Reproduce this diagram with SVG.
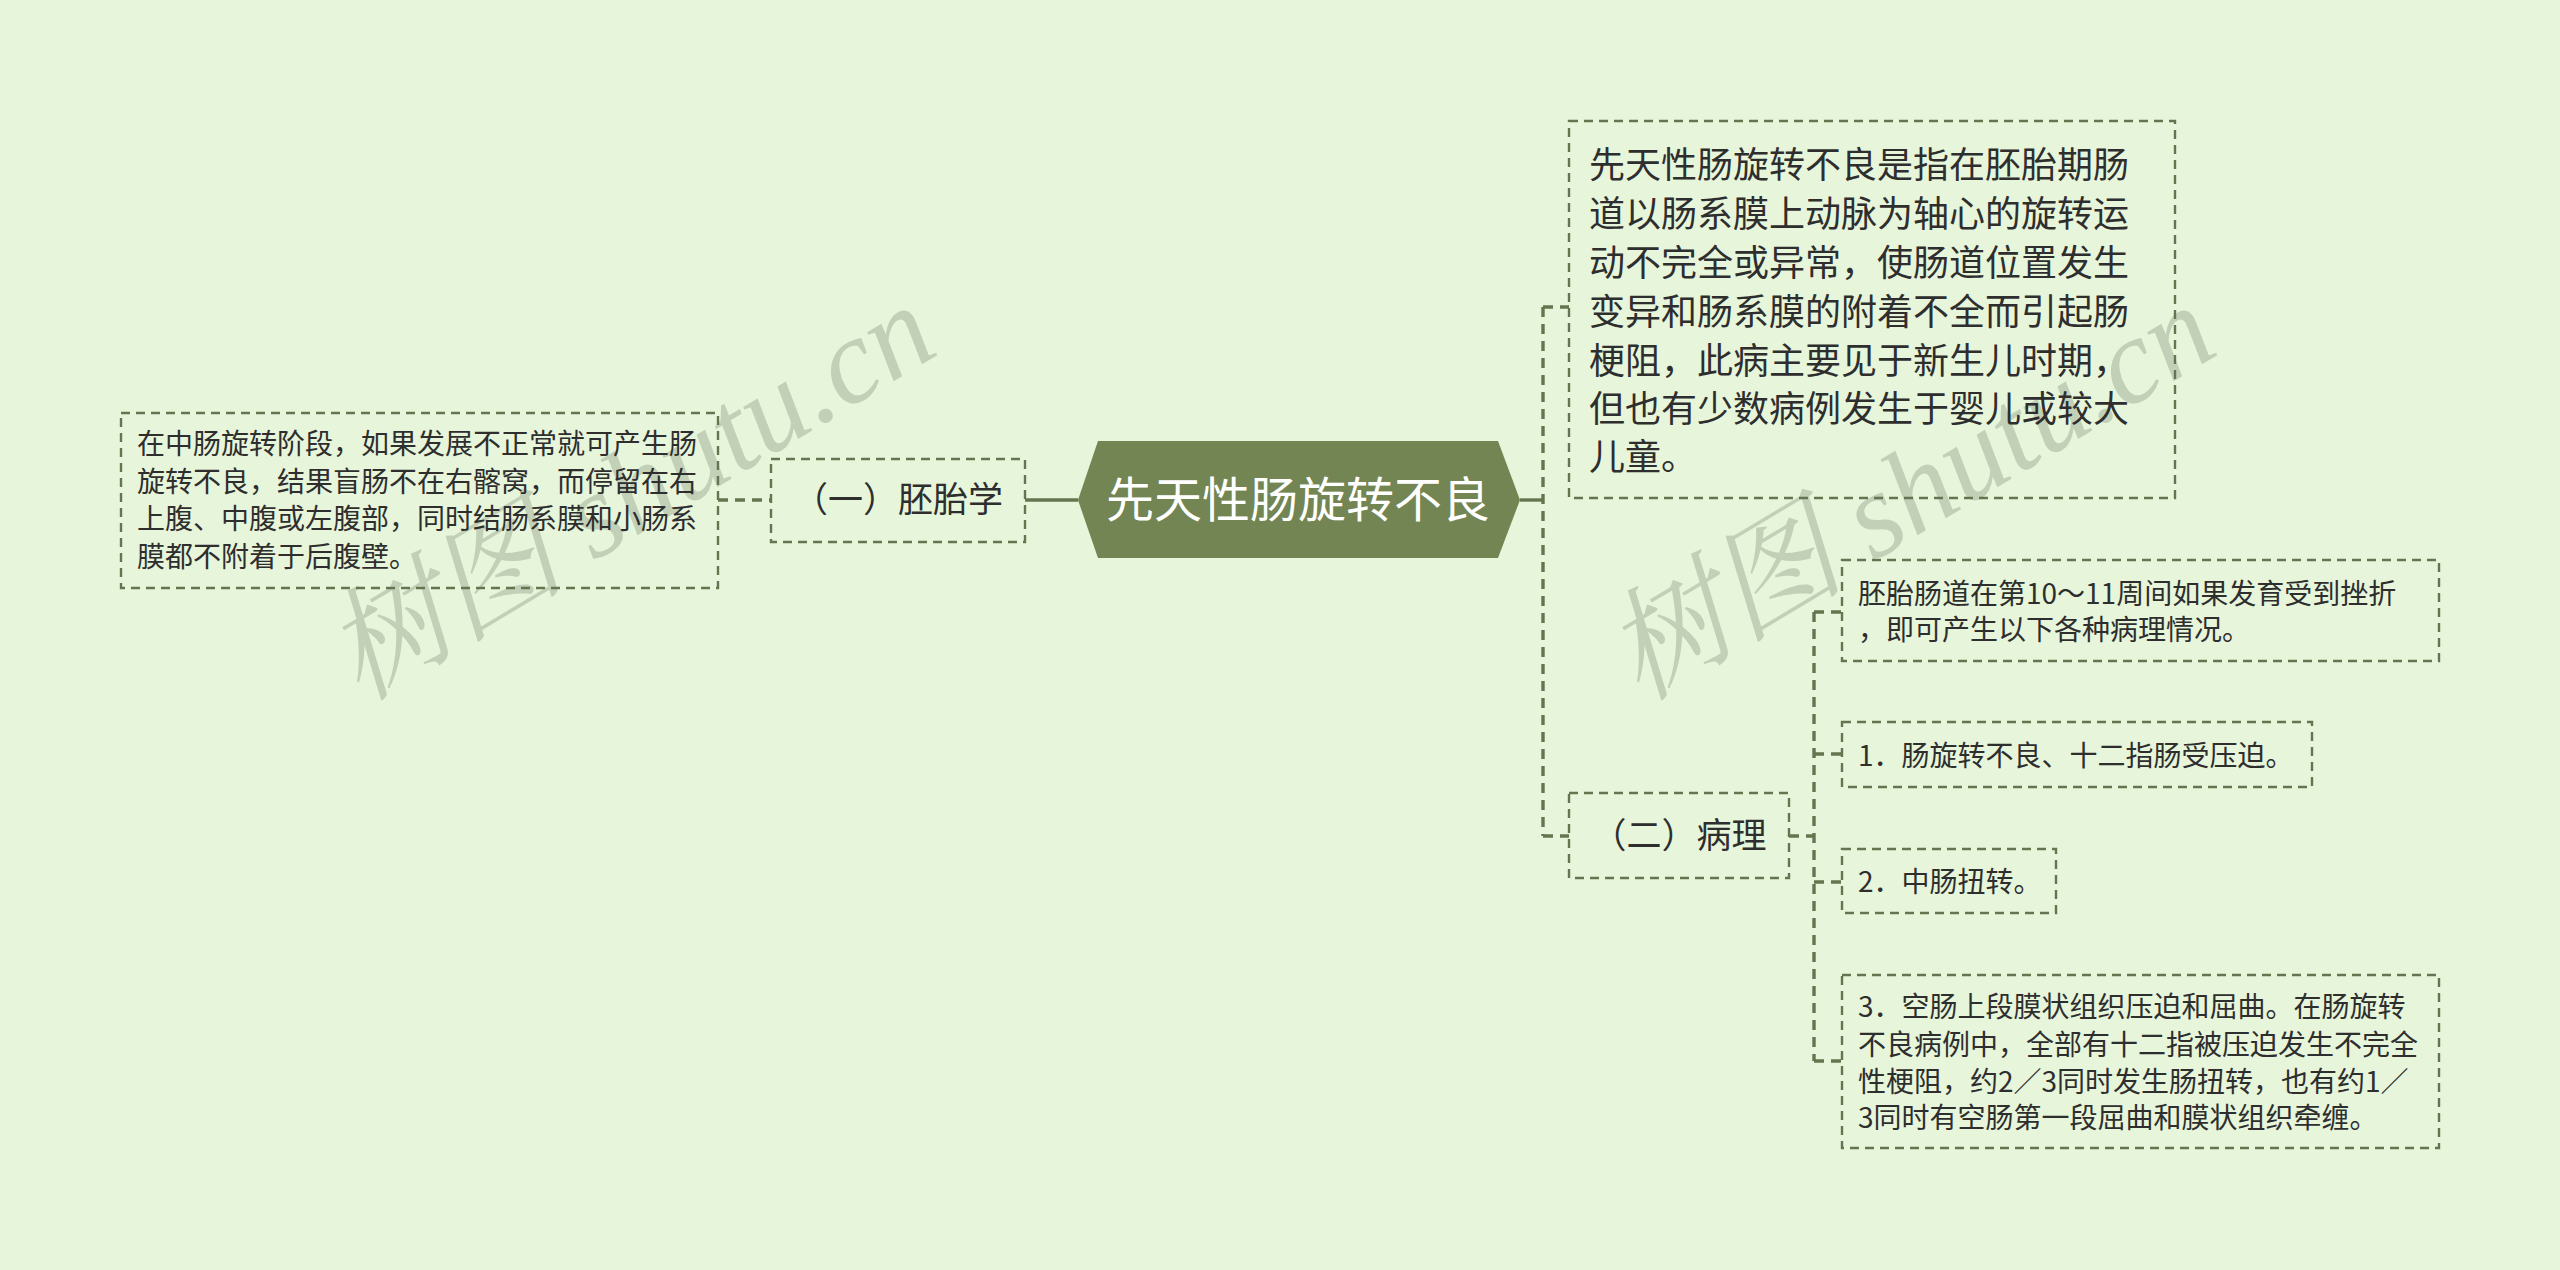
<svg xmlns="http://www.w3.org/2000/svg" width="2560" height="1270" viewBox="0 0 2560 1270">
<style>
.box{fill:none;stroke:#66744f;stroke-width:2.4;stroke-dasharray:9 6}
.t{font-family:"Noto Sans CJK SC","Noto Sans",sans-serif;fill:#2e2e2e}
.c{fill:none;stroke:#66744f;stroke-width:3.4;stroke-dasharray:10 7}
.s{fill:none;stroke:#66744f;stroke-width:3.4}
.wm{font-family:"Liberation Serif","Noto Serif CJK SC","Noto Sans CJK SC",serif;font-style:italic;fill:#c2d0b8}
</style>
<rect width="2560" height="1270" fill="#e7f5db"/>
<g id="watermarks">
<text class="wm" font-size="121" transform="translate(360,702) rotate(-31)">树图 shutu.cn</text>
<text class="wm" font-size="121" transform="translate(1640,702) rotate(-31)">树图 shutu.cn</text>
</g>
<g id="connectors">
<line class="s" x1="1025" y1="500" x2="1078" y2="500"/>
<line class="c" x1="718" y1="500" x2="771" y2="500"/>
<line class="s" x1="1520" y1="500" x2="1543" y2="500"/>
<line class="c" x1="1543" y1="307" x2="1543" y2="836"/>
<line class="c" x1="1543" y1="307" x2="1569" y2="307"/>
<line class="c" x1="1543" y1="836" x2="1569" y2="836"/>
<line class="c" x1="1789" y1="836" x2="1814" y2="836"/>
<line class="c" x1="1814" y1="612" x2="1814" y2="1061"/>
<line class="c" x1="1814" y1="612" x2="1842" y2="612"/>
<line class="c" x1="1814" y1="754" x2="1842" y2="754"/>
<line class="c" x1="1814" y1="882" x2="1842" y2="882"/>
<line class="c" x1="1814" y1="1061" x2="1842" y2="1061"/>
</g>
<g id="root">
<polygon points="1078,500 1098,441 1498,441 1520,500 1498,558 1098,558" fill="#738553"/>
<text x="1298" y="517" font-size="48" text-anchor="middle" class="t" style="fill:#ffffff">先天性肠旋转不良</text>
</g>
<g id="n-peitai">
<rect class="box" x="771" y="459" width="254" height="83"/>
<text class="t" x="898" y="512" font-size="35" text-anchor="middle">（一）胚胎学</text>
</g>
<g id="n-peitai-text">
<rect class="box" x="121" y="413" width="597" height="175"/>
<text class="t" font-size="28">
<tspan x="137" y="454">在中肠旋转阶段，如果发展不正常就可产生肠</tspan>
<tspan x="137" y="492">旋转不良，结果盲肠不在右髂窝，而停留在右</tspan>
<tspan x="137" y="529">上腹、中腹或左腹部，同时结肠系膜和小肠系</tspan>
<tspan x="137" y="567">膜都不附着于后腹壁。</tspan>
</text>
</g>
<g id="n-def">
<rect class="box" x="1569" y="121" width="606" height="377"/>
<text class="t" font-size="36">
<tspan x="1589" y="178">先天性肠旋转不良是指在胚胎期肠</tspan>
<tspan x="1589" y="227">道以肠系膜上动脉为轴心的旋转运</tspan>
<tspan x="1589" y="276">动不完全或异常，使肠道位置发生</tspan>
<tspan x="1589" y="325">变异和肠系膜的附着不全而引起肠</tspan>
<tspan x="1589" y="374">梗阻，此病主要见于新生儿时期，</tspan>
<tspan x="1589" y="422">但也有少数病例发生于婴儿或较大</tspan>
<tspan x="1589" y="470">儿童。</tspan>
</text>
</g>
<g id="n-bingli">
<rect class="box" x="1569" y="793" width="220" height="85"/>
<text class="t" x="1679" y="848" font-size="35" text-anchor="middle">（二）病理</text>
</g>
<g id="n-b0">
<rect class="box" x="1842" y="560" width="597" height="101"/>
<text class="t" font-size="28">
<tspan x="1858" y="604">胚胎肠道在第10～11周间如果发育受到挫折</tspan>
<tspan x="1858" y="640">，即可产生以下各种病理情况。</tspan>
</text>
</g>
<g id="n-b1">
<rect class="box" x="1842" y="722" width="470" height="65"/>
<text class="t" x="1858" y="766" font-size="28">1．肠旋转不良、十二指肠受压迫。</text>
</g>
<g id="n-b2">
<rect class="box" x="1842" y="849" width="214" height="64"/>
<text class="t" x="1858" y="892" font-size="28">2．中肠扭转。</text>
</g>
<g id="n-b3">
<rect class="box" x="1842" y="975" width="597" height="173"/>
<text class="t" font-size="28">
<tspan x="1858" y="1017">3．空肠上段膜状组织压迫和屈曲。在肠旋转</tspan>
<tspan x="1858" y="1055">不良病例中，全部有十二指被压迫发生不完全</tspan>
<tspan x="1858" y="1092">性梗阻，约2／3同时发生肠扭转，也有约1／</tspan>
<tspan x="1858" y="1128">3同时有空肠第一段屈曲和膜状组织牵缠。</tspan>
</text>
</g>
</svg>
